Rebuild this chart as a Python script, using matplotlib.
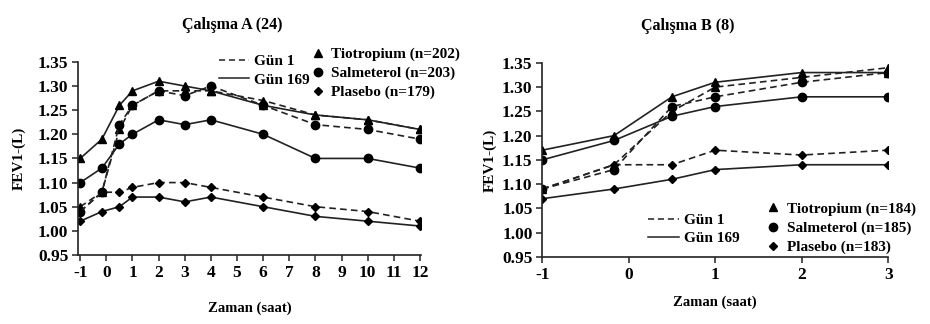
import matplotlib
matplotlib.use("Agg")
import matplotlib.pyplot as plt
from matplotlib.lines import Line2D

plt.rcParams["font.family"] = ["Liberation Serif", "DejaVu Serif"]
plt.rcParams["font.weight"] = "bold"

# Study A (24 h)
time_a = [-1, -0.17, 0.5, 1, 2, 3, 4, 6, 8, 10, 12]
a_tio_d1 = [1.05, 1.08, 1.21, 1.26, 1.29, 1.29, 1.29, 1.27, 1.24, 1.23, 1.21]
a_tio_d169 = [1.15, 1.19, 1.26, 1.29, 1.31, 1.30, 1.29, 1.26, 1.24, 1.23, 1.21]
a_sal_d1 = [1.04, 1.08, 1.22, 1.26, 1.29, 1.28, 1.30, 1.26, 1.22, 1.21, 1.19]
a_sal_d169 = [1.10, 1.13, 1.18, 1.20, 1.23, 1.22, 1.23, 1.20, 1.15, 1.15, 1.13]
a_pla_d1 = [1.04, 1.08, 1.08, 1.09, 1.10, 1.10, 1.09, 1.07, 1.05, 1.04, 1.02]
a_pla_d169 = [1.02, 1.04, 1.05, 1.07, 1.07, 1.06, 1.07, 1.05, 1.03, 1.02, 1.01]
a_labels = ["Tiotropium (n=202)", "Salmeterol (n=203)", "Plasebo (n=179)"]
a_xticks = list(range(-1, 13))

# Study B (8 h)
time_b = [-1, -0.17, 0.5, 1, 2, 3]
b_tio_d1 = [1.09, 1.14, 1.25, 1.30, 1.32, 1.34]
b_tio_d169 = [1.17, 1.20, 1.28, 1.31, 1.33, 1.33]
b_sal_d1 = [1.09, 1.13, 1.26, 1.28, 1.31, 1.33]
b_sal_d169 = [1.15, 1.19, 1.24, 1.26, 1.28, 1.28]
b_pla_d1 = [1.09, 1.14, 1.14, 1.17, 1.16, 1.17]
b_pla_d169 = [1.07, 1.09, 1.11, 1.13, 1.14, 1.14]
b_labels = ["Tiotropium (n=184)", "Salmeterol (n=185)", "Plasebo (n=183)"]
b_xticks = [-1, 0, 1, 2, 3]

yticks = [0.95, 1.00, 1.05, 1.10, 1.15, 1.20, 1.25, 1.30, 1.35]
day_labels = ["Gün 1", "Gün 169"]
markers = ["^", "o", "D"]
msizes = [6, 6, 4.5]
LC = "#222222"
FS = 11
TFS = 12.5


def draw_panel(ax, t, series, xticks, title, tx, xpad, ypad):
    for (d1, d169), m, ms in zip(series, markers, msizes):
        ax.plot(t, d1, ls=(0, (4, 2.5)), color=LC, lw=1.2, marker=m, ms=ms,
                mfc="black", mec="black")
        ax.plot(t, d169, ls="-", color=LC, lw=1.2, marker=m, ms=ms,
                mfc="black", mec="black")
    ax.set_ylim(0.95, 1.35)
    ax.set_yticks(yticks)
    ax.set_yticklabels([f"{v:.2f}" for v in yticks], fontsize=TFS, fontweight="bold")
    ax.set_xticks(xticks)
    ax.set_xticklabels([str(v) for v in xticks], fontsize=TFS, fontweight="bold")
    ax.spines["top"].set_visible(False)
    ax.spines["right"].set_visible(False)
    for s in ("left", "bottom"):
        ax.spines[s].set_color(LC)
        ax.spines[s].set_linewidth(1.2)
    ax.tick_params(direction="out", length=4, width=1.1, color=LC, pad=3)
    ax.set_ylabel("FEV1-(L)", fontsize=FS, fontweight="bold", labelpad=ypad)
    ax.set_xlabel("Zaman (saat)", fontsize=10.5, fontweight="bold", labelpad=xpad)
    ax.set_title(title, fontsize=11.5, fontweight="bold", x=tx, y=1.17, pad=0)


def add_legends(ax, labels, line_anchor, mark_anchor):
    line_h = [Line2D([], [], color=LC, lw=1.1, ls=(0, (4, 2.5))),
              Line2D([], [], color=LC, lw=1.1, ls="-")]
    leg1 = ax.legend(line_h, day_labels, loc="upper left", bbox_to_anchor=line_anchor,
                     bbox_transform=ax.figure.transFigure, frameon=False,
                     handlelength=2.0, handletextpad=0.3, labelspacing=0.3,
                     borderpad=0, prop={"size": FS, "weight": "bold"})
    ax.add_artist(leg1)
    mark_h = [Line2D([], [], ls="", marker=m, ms=ms, color="black")
              for m, ms in zip(markers, msizes)]
    ax.legend(mark_h, labels, loc="upper left", bbox_to_anchor=mark_anchor,
              bbox_transform=ax.figure.transFigure, frameon=False,
              handlelength=1.0, handletextpad=0.4, labelspacing=0.35,
              borderpad=0, prop={"size": FS, "weight": "bold"})


fig = plt.figure(figsize=(9.3, 3.24), dpi=100)
ax_a = fig.add_axes([0.084, 0.213, 0.369, 0.596])
ax_b = fig.add_axes([0.583, 0.207, 0.372, 0.599])

draw_panel(ax_a, time_a,
           [(a_tio_d1, a_tio_d169), (a_sal_d1, a_sal_d169), (a_pla_d1, a_pla_d169)],
           a_xticks, "Çalışma A (24)", 0.449, 15, 9)
ax_a.set_xlim(-1.08, 12.05)

draw_panel(ax_b, time_b,
           [(b_tio_d1, b_tio_d169), (b_sal_d1, b_sal_d169), (b_pla_d1, b_pla_d169)],
           b_xticks, "Çalışma B (8)", 0.42, 9, 4)
ax_b.set_xlim(-1.0, 3.0)

add_legends(ax_a, a_labels, (0.227, 0.855), (0.325, 0.878))
add_legends(ax_b, b_labels, (0.689, 0.365), (0.815, 0.40))

fig.savefig("out.png", dpi=100)
